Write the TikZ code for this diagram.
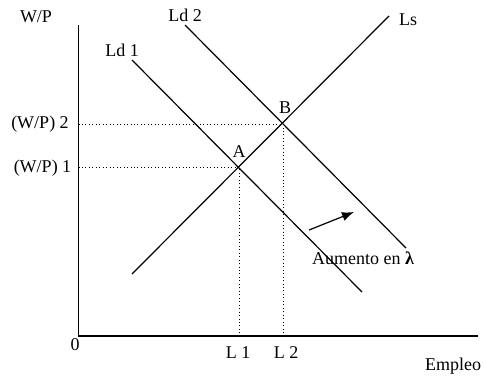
\documentclass[tikz,border=0pt]{standalone}
\usepackage{fontspec}
\setmainfont{Liberation Serif}
\usetikzlibrary{arrows.meta, positioning, calc}

\begin{document}
\begin{tikzpicture}[x=0.75pt, y=-0.75pt, line width=0.9pt,
    font=\fontsize{13.5}{16}\selectfont,
    guide/.style={dotted, line width=0.6pt}]
    \useasboundingbox (0, 0) rectangle (484, 378);

    % Axes
    \coordinate (O) at (78.5, 336);
    \coordinate (ytop) at (78.5, 25);
    \coordinate (xend) at (478, 336);
    \draw[line width=1.1pt] (ytop) -- (O) -- (xend);
    \node (wp) at (36, 17) {W/P};
    \node (empleo) at (453, 366) {Empleo};
    \node (zero) at (75, 345) {0};

    % Curves
    \coordinate (ls0) at (132, 274);
    \coordinate (ls1) at (389, 16);
    \coordinate (ldA0) at (132, 60);
    \coordinate (ldA1) at (362, 292);
    \coordinate (ldB0) at (185, 25);
    \coordinate (ldB1) at (406, 248);
    \draw (ls0) -- (ls1);
    \draw (ldA0) -- (ldA1);
    \draw (ldB0) -- (ldB1);
    \node (lslabel) at (408, 20) {Ls};
    \node (ldAlabel) at (122, 50) {Ld 1};
    \node (ldBlabel) at (185, 15) {Ld 2};

    % Equilibria
    \coordinate (A) at (239, 167);
    \coordinate (B) at (283, 124);
    \node (alabel) at (239, 152) {A};
    \node (blabel) at (285, 108) {B};
    \draw[guide] (A -| O) -- (A) -- (A |- O);
    \draw[guide] (B -| O) -- (B) -- (B |- O);
    \node (wp1) at (42.5, 168) {(W/P) 1};
    \node (wp2) at (40, 124) {(W/P) 2};
    \node (l1) at (238, 353) {L 1};
    \node (l2) at (286, 353) {L 2};

    % Shift
    \coordinate (sh0) at (309, 230);
    \coordinate (sh1) at (354, 212);
    \draw[-{Latex[length=9pt, width=7pt]}] (sh0) -- (sh1);
    \node (shift) at (363, 258) {Aumento en \textbf{λ}};
\end{tikzpicture}
\end{document}
